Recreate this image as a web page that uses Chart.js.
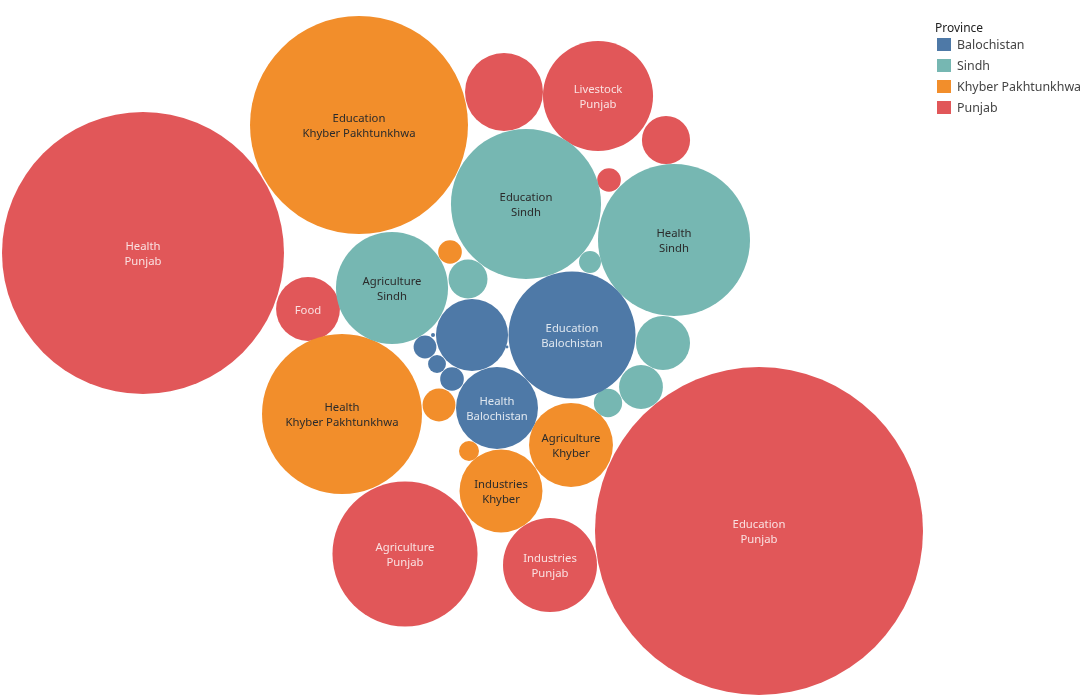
<!DOCTYPE html>
<html>
<head>
<meta charset="utf-8">
<script src="https://cdn.jsdelivr.net/npm/chart.js@4"></script>
<style>
  html, body { margin: 0; padding: 0; background: #fff; }
  #wrap { position: relative; width: 1086px; height: 697px; }
  #legend { position: absolute; left: 935px; top: 19px; font-family: "Noto Sans", sans-serif; color: #333; }
  #legend .title { font-size: 12px; color: #222; margin-bottom: -2px; }
  #legend .item { display: flex; align-items: center; height: 21px; font-size: 12.4px; color: #444; }
  #legend .swatch { width: 14px; height: 13px; margin-left: 2px; margin-right: 6px; }
</style>
</head>
<body>
<div id="wrap">
  <canvas id="bubbles" width="1086" height="697"></canvas>
  <div id="legend"></div>
</div>
<script>
// provinces and their colours (legend order)
const PROVINCES = ['Balochistan', 'Sindh', 'Khyber Pakhtunkhwa', 'Punjab'];
const PROVINCE_COLORS = ['#4e79a7', '#76b7b2', '#f28e2b', '#e15759'];
const LABEL_COLORS = ['rgba(255,255,255,0.82)', '#2b2b2b', '#2b2b2b', 'rgba(255,255,255,0.82)'];

// one entry per bubble
const SECTORS = [
  'Health', 'Education', 'Agriculture', 'Industries', 'Livestock', 'Food', 'Irrigation', 'Energy', 'Forestry',
  'Education', 'Health', 'Agriculture', 'Industries', 'Livestock', 'Food', 'Irrigation',
  'Education', 'Health', 'Agriculture', 'Industries', 'Food', 'Livestock', 'Irrigation', 'Energy',
  'Education', 'Health', 'Agriculture', 'Livestock', 'Industries', 'Food', 'Irrigation', 'Energy'
];
const BUBBLE_PROVINCE = [
  'Punjab', 'Punjab', 'Punjab', 'Punjab', 'Punjab', 'Punjab', 'Punjab', 'Punjab', 'Punjab',
  'Khyber Pakhtunkhwa', 'Khyber Pakhtunkhwa', 'Khyber Pakhtunkhwa', 'Khyber Pakhtunkhwa', 'Khyber Pakhtunkhwa', 'Khyber Pakhtunkhwa', 'Khyber Pakhtunkhwa',
  'Sindh', 'Sindh', 'Sindh', 'Sindh', 'Sindh', 'Sindh', 'Sindh', 'Sindh',
  'Balochistan', 'Balochistan', 'Balochistan', 'Balochistan', 'Balochistan', 'Balochistan', 'Balochistan', 'Balochistan'
];
// size measure (bubble area)
const AMOUNTS = [
  198.8, 269.0, 52.6, 22.1, 30.3, 10.2, 15.2, 5.8, 1.4,
  118.8, 64.0, 17.6, 17.2, 2.7, 1.4, 1.0,
  56.3, 57.8, 31.4, 3.8, 1.2, 7.3, 4.8, 2.0,
  40.3, 16.8, 13.0, 1.3, 0.8, 1.4, 0.04, 0.02
];
// text shown inside the bubble ('' = none)
const SHOWN_LABELS = [
  'Health|Punjab', 'Education|Punjab', 'Agriculture|Punjab', 'Industries|Punjab', 'Livestock|Punjab', 'Food', '', '', '',
  'Education|Khyber Pakhtunkhwa', 'Health|Khyber Pakhtunkhwa', 'Agriculture|Khyber', 'Industries|Khyber', '', '', '',
  'Education|Sindh', 'Health|Sindh', 'Agriculture|Sindh', '', '', '', '', '',
  'Education|Balochistan', 'Health|Balochistan', '', '', '', '', '', ''
];
// packed layout centres (layout units)
const LAYOUT_X = [
  143, 759, 405, 550, 598, 308, 504, 666, 609,
  359, 342, 571, 501, 439, 450, 469,
  526, 674, 392, 468, 590, 663, 641, 608,
  572, 497, 472, 425, 437, 452, 433, 507
];
const LAYOUT_Y = [
  253, 531, 554, 565, 96, 309, 92, 140, 180,
  125, 414, 445, 491, 405, 252, 451,
  204, 240, 288, 279, 262, 343, 387, 403,
  335, 408, 335, 347, 364, 379, 335, 347
];

const LAYOUT_W = 1086;
const LAYOUT_H = 697;

// build one dataset per province
const datasets = PROVINCES.map((prov, p) => {
  const idx = [];
  BUBBLE_PROVINCE.forEach((bp, i) => { if (bp === prov) idx.push(i); });
  return {
    label: prov,
    backgroundColor: PROVINCE_COLORS[p],
    hoverBackgroundColor: PROVINCE_COLORS[p],
    borderWidth: 0,
    hoverBorderWidth: 0,
    hoverRadius: 0,
    clip: false,
    labelColor: LABEL_COLORS[p],
    data: idx.map((i) => ({
      x: LAYOUT_X[i],
      y: LAYOUT_Y[i],
      amount: AMOUNTS[i],
      sector: SECTORS[i],
      shown: SHOWN_LABELS[i],
    })),
  };
});

// sector / province text inside the bubbles
const bubbleLabels = {
  id: 'bubbleLabels',
  afterDatasetsDraw(chart) {
    const ctx = chart.ctx;
    ctx.save();
    ctx.font = '11.3px "Noto Sans", sans-serif';
    ctx.textAlign = 'center';
    ctx.textBaseline = 'middle';
    chart.data.datasets.forEach((ds, d) => {
      const meta = chart.getDatasetMeta(d);
      meta.data.forEach((el, i) => {
        const txt = ds.data[i].shown;
        if (!txt) return;
        const lines = txt.split('|');
        const gap = 15.5;
        const top = el.y + 1.5 - ((lines.length - 1) * gap) / 2;
        ctx.fillStyle = ds.labelColor;
        lines.forEach((line, k) => ctx.fillText(line, el.x, top + k * gap));
      });
    });
    ctx.restore();
  },
};

const chart = new Chart(document.getElementById('bubbles'), {
  type: 'bubble',
  data: { datasets: datasets },
  options: {
    responsive: false,
    animation: false,
    layout: { padding: 0, autoPadding: false },
    scales: {
      x: { type: 'linear', min: 0, max: LAYOUT_W, display: false },
      y: { type: 'linear', min: 0, max: LAYOUT_H, reverse: true, display: false },
    },
    plugins: {
      legend: { display: false },
      tooltip: {
        callbacks: {
          label: (item) => item.raw.sector + ', ' + item.dataset.label + ': ' + item.raw.amount,
        },
      },
    },
  },
  plugins: [bubbleLabels],
});

// bubble area follows the amount; radius measured in layout units through the x scale
const xScale = chart.scales.x;
chart.data.datasets.forEach((ds) => {
  ds.data = ds.data.map((pt) => Object.assign({}, pt, {
    r: xScale.getPixelForValue(Math.sqrt(pt.amount) * 10) - xScale.getPixelForValue(0),
  }));
});
chart.update();

// legend
const legend = document.getElementById('legend');
legend.innerHTML = '<div class="title">Province</div>' +
  PROVINCES.map((p, i) =>
    `<div class="item"><span class="swatch" style="background:${PROVINCE_COLORS[i]}"></span>${p}</div>`
  ).join('');
</script>
</body>
</html>
